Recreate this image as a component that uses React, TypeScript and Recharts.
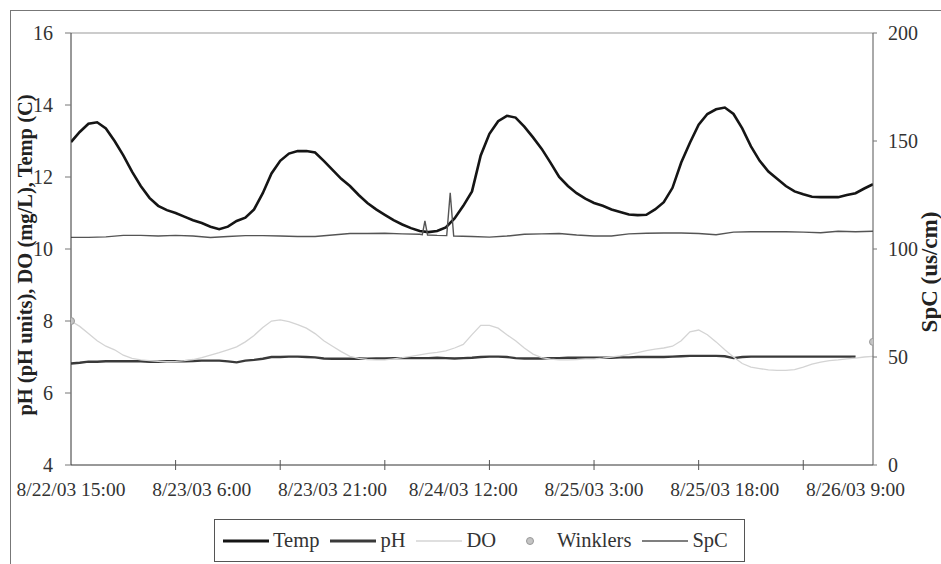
import React from 'react';
import { ComposedChart, Line, XAxis, YAxis, Legend, ReferenceLine } from 'recharts';

const FONT = 'Liberation Serif, Times New Roman, serif';

// hourly readings from 8/22/03 15:00 (hour 0) to hour 92
const temp = [
  12.97, 13.25, 13.48, 13.52, 13.35, 13.0, 12.6, 12.15, 11.75, 11.42,
  11.2, 11.08, 11.0, 10.9, 10.8, 10.72, 10.62, 10.55, 10.62, 10.78,
  10.87, 11.1, 11.55, 12.1, 12.45, 12.65, 12.72, 12.72, 12.68, 12.45,
  12.2, 11.95, 11.75, 11.5, 11.28, 11.1, 10.95, 10.8, 10.68, 10.58,
  10.5, 10.47, 10.5, 10.6, 10.85, 11.2, 11.6, 12.6, 13.2, 13.55,
  13.7, 13.65, 13.4, 13.1, 12.78, 12.4, 12.0, 11.75, 11.55, 11.4,
  11.28, 11.2, 11.1, 11.03, 10.96, 10.94, 10.95, 11.1, 11.3, 11.7,
  12.4, 12.95, 13.45, 13.75, 13.88, 13.93, 13.75, 13.35, 12.85, 12.45,
  12.15, 11.95, 11.75, 11.6, 11.52, 11.45, 11.44, 11.44, 11.44, 11.5,
  11.55, 11.68, 11.8,
];

const ph = [
  6.82, 6.84, 6.87, 6.87, 6.88, 6.88, 6.88, 6.88, 6.88, 6.87,
  6.87, 6.88, 6.88, 6.88, 6.89, 6.9, 6.9, 6.9, 6.88, 6.85,
  6.9, 6.92, 6.95, 7.0, 7.0, 7.01, 7.01, 7.0, 6.99, 6.96,
  6.95, 6.95, 6.95, 6.96, 6.95, 6.96, 6.96, 6.97, 6.97, 6.97,
  6.97, 6.97, 6.98, 6.97, 6.96, 6.97, 6.98, 7.0, 7.01, 7.01,
  7.0, 6.97, 6.96, 6.96, 6.96, 6.97, 6.97, 6.98, 6.98, 6.98,
  6.98, 6.98, 6.98, 6.99, 6.99, 7.0, 7.0, 7.0, 7.0, 7.01,
  7.02, 7.03, 7.03, 7.03, 7.03, 7.02, 6.97, 7.0, 7.01, 7.01,
  7.01, 7.01, 7.01, 7.01, 7.01, 7.01, 7.01, 7.01, 7.01, 7.01,
  7.01, null, null,
];

const dissolvedO2 = [
  8.0, 7.85, 7.65, 7.45, 7.3, 7.2, 7.05, 6.96, 6.92, 6.9,
  6.88, 6.87, 6.88, 6.9, 6.93, 6.98, 7.05, 7.12, 7.2, 7.28,
  7.42, 7.6, 7.82, 8.0, 8.03, 7.98, 7.9, 7.8, 7.65, 7.45,
  7.3, 7.15, 7.02, 6.96, 6.93, 6.92, 6.92, 6.95, 6.98, 7.02,
  7.06, 7.1, 7.13, 7.17, 7.25, 7.35, 7.62, 7.88, 7.88, 7.8,
  7.62, 7.45, 7.25, 7.08, 6.98, 6.94, 6.92, 6.92, 6.93, 6.95,
  6.95, 6.97, 7.0, 7.03, 7.07, 7.12, 7.18, 7.22, 7.25, 7.3,
  7.45, 7.7, 7.75, 7.62, 7.42, 7.2, 7.0, 6.82, 6.72, 6.68,
  6.64, 6.63, 6.63, 6.65, 6.72, 6.8, 6.86, 6.9, 6.92, 6.95,
  6.97, 7.0, 7.02,
];

const spcHours = [
  0, 2, 4, 6, 8, 10, 12, 14, 16, 18, 20, 22, 24, 26, 28, 30, 32, 34, 36, 38, 40,
  40.3, 40.6, 40.9, 42, 43.1, 43.5, 43.9,
  46, 48, 50, 52, 54, 56, 58, 60, 62, 64, 66, 68, 70, 72, 74, 76, 78, 80, 82, 84, 86, 88, 90, 92,
];
const spcValues = [
  105.4, 105.4, 105.6, 106.3, 106.3, 106.0, 106.3, 106.0, 105.3, 105.8,
  106.2, 106.2, 106.0, 105.8, 105.8, 106.5, 107.2, 107.2, 107.3, 107.0,
  106.8, 106.6, 113, 106.5, 106.3, 106.2, 126, 106.0,
  105.8, 105.5, 106.0, 106.8, 107.0, 107.2, 106.5, 106.0, 106.0, 107.0,
  107.3, 107.4, 107.4, 107.2, 106.6, 107.8, 108.0, 108.0, 108.0, 107.8,
  107.5, 108.2, 108.0, 108.2,
];

const winklerHours = [0, 92];
const winklerValues = [8.0, 7.42];

const labelHours = [0, 15, 30, 45, 60, 75, 90];
const tickLabels = [
  '8/22/03 15:00', '8/23/03 6:00', '8/23/03 21:00', '8/24/03 12:00',
  '8/25/03 3:00', '8/25/03 18:00', '8/26/03 9:00',
];
const markHours = [0, 12, 24, 36, 48, 60, 72, 84];
const leftTicks = [4, 6, 8, 10, 12, 14, 16];
const rightTicks = [0, 50, 100, 150, 200];
const seriesNames = ['Temp', 'pH', 'DO', 'Winklers', 'SpC'];

const data = temp.map((t, i) => ({ h: i, temp: t, ph: ph[i], doMg: dissolvedO2[i] }));
const spcData = spcHours.map((h, i) => ({ h, spc: spcValues[i] }));
const winklerData = winklerHours.map((h, i) => ({ h, w: winklerValues[i] }));
const allTicks = Array.from(new Set([...labelHours, ...markHours])).sort((a, b) => a - b);

const XTick = (props: any) => {
  const { x, y, payload } = props;
  const v = payload.value;
  const li = labelHours.indexOf(v);
  return (
    <g>
      {markHours.includes(v) && v !== 0 && (
        <line x1={x} x2={x} y1={y - 5} y2={y + 5} stroke="#555" strokeWidth={1} />
      )}
      {li >= 0 && (
        <text x={x} y={y + 31} textAnchor="middle" fontSize={19.5} fill="#333" fontFamily={FONT}>
          {tickLabels[li]}
        </text>
      )}
    </g>
  );
};

const LeftTitle = ({ viewBox }: any) => {
  const cx = viewBox.x + 17;
  const cy = viewBox.y + viewBox.height / 2 + 6;
  return (
    <text x={cx} y={cy} transform={`rotate(-90 ${cx} ${cy})`} textAnchor="middle"
      dominantBaseline="central" fontSize={20.5} fontWeight="bold" fill="#222" fontFamily={FONT}>
      pH (pH units), DO (mg/L), Temp (C)
    </text>
  );
};

const RightTitle = ({ viewBox }: any) => {
  const cx = viewBox.x + 56;
  const cy = viewBox.y + viewBox.height / 2 + 23;
  return (
    <text x={cx} y={cy} transform={`rotate(-90 ${cx} ${cy})`} textAnchor="middle"
      dominantBaseline="central" fontSize={23} fontWeight="bold" fill="#222" fontFamily={FONT}>
      SpC (us/cm)
    </text>
  );
};

const LineSwatch = ({ color, width }: { color: string; width: number }) => (
  <svg width={46} height={10}>
    <line x1={0} x2={46} y1={5} y2={5} stroke={color} strokeWidth={width} />
  </svg>
);

const LegendBox = () => {
  const item = { display: 'flex', alignItems: 'center', marginRight: 11 } as const;
  const txt = { marginLeft: 4, fontSize: 20.5, color: '#333', fontFamily: FONT } as const;
  return (
    <div style={{
      width: 531, height: 43, boxSizing: 'border-box', border: '1px solid #555',
      display: 'flex', alignItems: 'center', paddingLeft: 8, background: '#fff',
    }}>
      <div style={item}><LineSwatch color="#151515" width={3} /><span style={txt}>{seriesNames[0]}</span></div>
      <div style={item}><LineSwatch color="#3a3a3a" width={3} /><span style={txt}>{seriesNames[1]}</span></div>
      <div style={item}><LineSwatch color="#d4d4d4" width={1.3} /><span style={txt}>{seriesNames[2]}</span></div>
      <div style={item}>
        <svg width={46} height={10}><circle cx={23} cy={5} r={3.5} fill="#c4c4c4" stroke="#999" /></svg>
        <span style={txt}>{seriesNames[3]}</span>
      </div>
      <div style={item}><LineSwatch color="#555" width={1.6} /><span style={txt}>{seriesNames[4]}</span></div>
    </div>
  );
};

export default function App() {
  return (
    <div style={{ position: 'fixed', left: 0, top: 0, width: 941, height: 564, overflow: 'hidden', background: '#fff', fontFamily: FONT }}>
      <div style={{ position: 'absolute', left: 10, top: 10, width: 2000, height: 2000, border: '1px solid #777' }} />
      <ComposedChart width={941} height={564} data={data} margin={{ top: 33, right: 8, bottom: 59, left: 8 }}>
        <XAxis
          dataKey="h"
          type="number"
          domain={[0, 92]}
          ticks={allTicks}
          interval={0}
          tick={XTick}
          tickLine={false}
          tickSize={0}
          tickMargin={0}
          height={40}
          allowDataOverflow
          axisLine={{ stroke: '#333' }}
        />
        <YAxis
          yAxisId="left"
          domain={[4, 16]}
          ticks={leftTicks}
          width={63}
          tickSize={6}
          tickMargin={12}
          tick={{ fontSize: 20, fill: '#333', fontFamily: FONT }}
          axisLine={{ stroke: '#333' }}
          tickLine={{ stroke: '#777' }}
          label={<LeftTitle />}
        />
        <YAxis
          yAxisId="right"
          orientation="right"
          domain={[0, 200]}
          ticks={rightTicks}
          width={60}
          tickSize={4}
          tickMargin={11}
          tick={{ fontSize: 20, fill: '#333', fontFamily: FONT }}
          axisLine={{ stroke: '#555' }}
          tickLine={{ stroke: '#777' }}
          label={<RightTitle />}
        />
        <ReferenceLine yAxisId="left" y={16} stroke="#999" strokeWidth={1} />
        <Line yAxisId="left" dataKey="temp" type="linear" stroke="#151515" strokeWidth={2.6} dot={false} isAnimationActive={false} />
        <Line yAxisId="left" dataKey="ph" type="linear" stroke="#3a3a3a" strokeWidth={2.4} dot={false} isAnimationActive={false} />
        <Line yAxisId="left" dataKey="doMg" type="linear" stroke="#d4d4d4" strokeWidth={1.3} dot={false} isAnimationActive={false} />
        <Line yAxisId="left" data={winklerData} dataKey="w" stroke="none"
          dot={{ r: 3.5, fill: '#c4c4c4', stroke: '#999', strokeWidth: 1 }} isAnimationActive={false} />
        <Line yAxisId="right" data={spcData} dataKey="spc" type="linear" stroke="#555" strokeWidth={1.4} dot={false} isAnimationActive={false} />
        <Legend
          layout="horizontal"
          verticalAlign="middle"
          align="center"
          wrapperStyle={{ left: 214, top: 519, width: 531, height: 43 }}
          content={<LegendBox />}
        />
      </ComposedChart>
    </div>
  );
}
